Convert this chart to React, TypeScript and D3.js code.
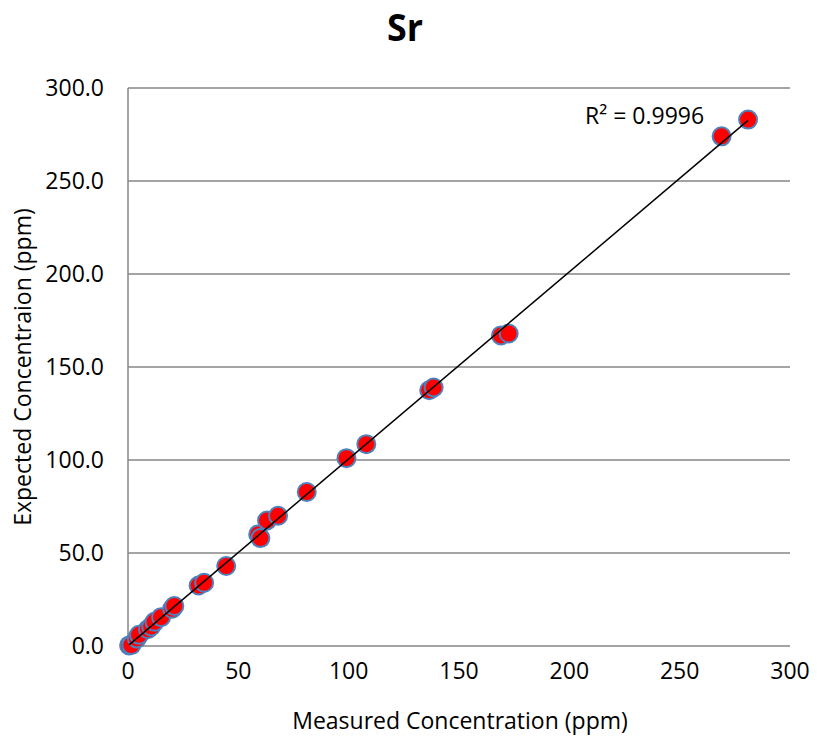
import React from 'react';
import * as d3 from 'd3';

// measured vs expected Sr concentration (ppm)
const measured = [0.5, 1.5, 4, 5, 9, 10.5, 12, 15, 20, 21, 32, 34.5, 44.5, 59, 60, 63, 68, 81, 99, 108, 136.5, 138.5, 169, 172.5, 269, 281];
const expected = [0.3, 0.5, 4, 6, 9, 10.5, 13, 15.5, 20, 21.5, 32.5, 34, 43, 60, 58, 67.5, 70, 82.8, 101, 108.5, 137.5, 139, 167, 168, 274, 283];
const xTicks = [0, 50, 100, 150, 200, 250, 300];
const yTicks = [0, 50, 100, 150, 200, 250, 300];
const rSquaredLabel = 'R² = 0.9996';

const W = 817;
const H = 742;
const margin = { top: 88, right: 27, bottom: 96, left: 128 };
const font = '"Open Sans", sans-serif';

const App = () => {
  const innerW = W - margin.left - margin.right;
  const innerH = H - margin.top - margin.bottom;

  const x = d3.scaleLinear().domain([0, 300]).range([margin.left, margin.left + innerW]);
  const y = d3.scaleLinear().domain([0, 300]).range([margin.top + innerH, margin.top]);

  const points = measured.map((m, i) => ({ m, e: expected[i] }));

  // least squares trendline, like Excel's linear trendline
  const mx = d3.mean(measured) as number;
  const my = d3.mean(expected) as number;
  const slope = d3.sum(points, (p) => (p.m - mx) * (p.e - my)) / d3.sum(points, (p) => (p.m - mx) ** 2);
  const intercept = my - slope * mx;
  const x0 = d3.min(measured) as number;
  const x1 = d3.max(measured) as number;
  const trend = d3.line<number>().x((d) => x(d)).y((d) => y(slope * d + intercept));

  return (
    <svg width={W} height={H} style={{ position: 'absolute', left: 0, top: 0, background: '#fff' }}>
      <text x={405} y={41} textAnchor="middle" fontFamily={font} fontWeight="bold" fontSize={38} fill="#000" textLength={36} lengthAdjust="spacingAndGlyphs">
        Sr
      </text>

      {/* gridlines */}
      {yTicks.map((t) => (
        <line key={'g' + t} x1={x(0)} x2={x(300)} y1={y(t)} y2={y(t)} stroke="#868686" strokeWidth={1.5} />
      ))}
      <line x1={x(0)} x2={x(0)} y1={y(0)} y2={y(300)} stroke="#868686" strokeWidth={1.5} />

      {/* tick labels */}
      {yTicks.map((t) => (
        <text key={'yl' + t} x={104} y={y(t) + 8} textAnchor="end" fontFamily={font} fontSize={23} fill="#000">
          {d3.format('.1f')(t)}
        </text>
      ))}
      {xTicks.map((t) => (
        <text key={'xl' + t} x={x(t)} y={y(0) + 33} textAnchor="middle" fontFamily={font} fontSize={23} fill="#000">
          {t}
        </text>
      ))}

      <text x={460} y={729} textAnchor="middle" fontFamily={font} fontSize={23} fill="#000">
        Measured Concentration (ppm)
      </text>
      <text
        transform={`translate(31,${(y(0) + y(300)) / 2}) rotate(-90)`}
        textAnchor="middle"
        fontFamily={font}
        fontSize={23}
        fill="#000"
      >
        Expected Concentraion (ppm)
      </text>

      {/* points */}
      {points.map((p, i) => (
        <circle key={i} cx={x(p.m)} cy={y(p.e)} r={9} fill="#ff0000" stroke="#4f81bd" strokeWidth={2} />
      ))}

      <path d={trend([x0, x1]) as string} fill="none" stroke="#000" strokeWidth={1.5} />

      <text x={585} y={124} fontFamily={font} fontSize={23} fill="#000">
        {rSquaredLabel}
      </text>
    </svg>
  );
};

export default App;
